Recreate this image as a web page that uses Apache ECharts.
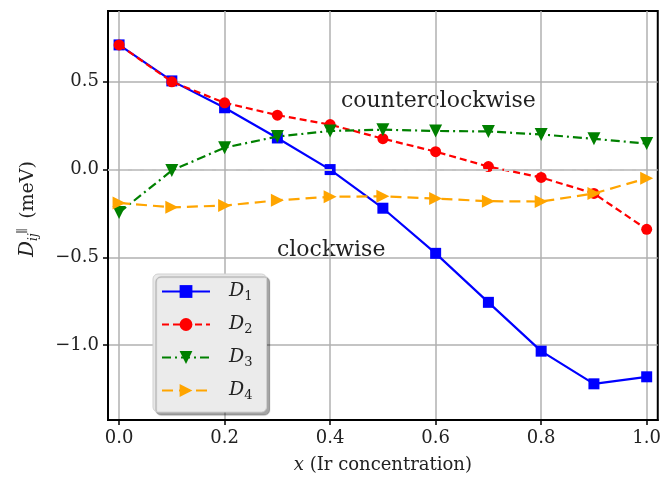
<!DOCTYPE html>
<html>
<head>
<meta charset="utf-8">
<script src="https://cdn.jsdelivr.net/npm/echarts@6/dist/echarts.min.js"></script>
<style>
  html, body { margin: 0; padding: 0; background: #fff; }
  #chart { width: 664px; height: 479px; }
</style>
</head>
<body>
<div id="chart"></div>
<script>
const xs = [0.0, 0.1, 0.2, 0.3, 0.4, 0.5, 0.6, 0.7, 0.8, 0.9, 1.0];
const d1 = [0.71, 0.505, 0.352, 0.18, 0.0, -0.22, -0.477, -0.756, -1.034, -1.22, -1.18];
const d2 = [0.71, 0.50, 0.38, 0.31, 0.256, 0.176, 0.102, 0.017, -0.045, -0.136, -0.34];
const d3 = [-0.245, -0.005, 0.125, 0.188, 0.22, 0.227, 0.22, 0.217, 0.20, 0.175, 0.148];
const d4 = [-0.19, -0.215, -0.205, -0.175, -0.155, -0.152, -0.165, -0.18, -0.182, -0.136, -0.05];
const xTicks = [0, 0.2, 0.4, 0.6, 0.8, 1.0];
const yTicks = [-1.0, -0.5, 0.0, 0.5];

const serif = 'DejaVu Serif';
const pair = arr => xs.map((x, i) => [x, arr[i]]);
const fmt = v => (v < 0 ? '\u2212' : '') + Math.abs(v).toFixed(1);

const myChart = echarts.init(document.getElementById('chart'), null, {renderer: 'canvas'});

function makeSeries(name, data, color, symbol, size, rotate, dash, z) {
    return {
        name: name,
        type: 'line',
        data: pair(data),
        z: z,
        symbol: symbol,
        symbolSize: size,
        symbolRotate: rotate,
        showAllSymbol: true,
        lineStyle: { color: color, width: 2.2, type: dash },
        itemStyle: { color: color },
        emphasis: { disabled: true },
        animation: false
    };
}

const axisCommon = {
    axisLine: { show: true, onZero: false, lineStyle: { color: '#000', width: 2 } },
    splitLine: { show: true, lineStyle: { color: '#b0b0b0', width: 1.5 } }
};

const option = {
    animation: false,
    grid: {
        left: 108, right: 6, top: 11, bottom: 58,
        show: true, borderColor: '#000', borderWidth: 2, backgroundColor: 'transparent'
    },
    xAxis: Object.assign({
        type: 'value',
        min: -0.021, max: 1.021,
        name: '{i|x} (Ir concentration)',
        nameLocation: 'middle',
        nameGap: 36,
        nameTextStyle: {
            fontFamily: serif, fontSize: 18, color: '#222',
            rich: { i: { fontFamily: serif, fontStyle: 'italic', fontSize: 18, color: '#222' } }
        },
        axisTick: { show: true, customValues: xTicks, length: 5, lineStyle: { color: '#000', width: 1.5 } },
        axisLabel: { customValues: xTicks, formatter: fmt, fontFamily: serif, fontSize: 18, color: '#222', margin: 9 }
    }, axisCommon),
    yAxis: Object.assign({
        type: 'value',
        min: -1.426, max: 0.903,
        axisTick: { show: true, customValues: yTicks, length: 5, lineStyle: { color: '#000', width: 1.5 } },
        axisLabel: { customValues: yTicks, formatter: fmt, fontFamily: serif, fontSize: 18, color: '#222', margin: 9 }
    }, axisCommon),
    legend: {
        orient: 'vertical',
        left: 153, top: 274,
        width: 110,
        padding: [8, 14, 10, 8],
        itemWidth: 48, itemHeight: 16,
        itemGap: 12,
        backgroundColor: '#ebebeb',
        borderColor: '#d0d0d0', borderWidth: 1, borderRadius: 5,
        shadowColor: 'rgba(0,0,0,0.35)', shadowOffsetX: 3, shadowOffsetY: 3, shadowBlur: 1,
        data: ['D1', 'D2', 'D3', 'D4'],
        formatter: n => '{d|D}{s|' + n.slice(1) + '}',
        textStyle: {
            padding: [0, 0, 0, 14],
            rich: {
                d: { fontFamily: serif, fontStyle: 'italic', fontSize: 19, color: '#222' },
                s: { fontFamily: serif, fontSize: 13, color: '#222', padding: [10, 0, 0, 0] }
            }
        }
    },
    graphic: [
        {
            type: 'text', x: 341, y: 101,
            style: { text: 'counterclockwise', fontFamily: serif, fontSize: 22, fill: '#222', align: 'left', verticalAlign: 'middle' }
        },
        {
            type: 'text', x: 277, y: 250,
            style: { text: 'clockwise', fontFamily: serif, fontSize: 22, fill: '#222', align: 'left', verticalAlign: 'middle' }
        },
        {
            type: 'text', x: 28, y: 209, rotation: Math.PI / 2,
            style: {
                text: '{d|D}{s|ij}{p|\u2225} (meV)',
                fontFamily: serif, fontSize: 19, fill: '#222', align: 'center', verticalAlign: 'middle',
                rich: {
                    d: { fontFamily: serif, fontStyle: 'italic', fontSize: 20, fill: '#222' },
                    s: { fontFamily: serif, fontStyle: 'italic', fontSize: 12, fill: '#222', padding: [11, 0, 0, 0] },
                    p: { fontFamily: serif, fontSize: 12, fill: '#222', padding: [0, 3, 11, 0] }
                }
            }
        }
    ],
    series: [
        {
            name: 'zero',
            type: 'line',
            data: [],
            z: 1,
            markLine: {
                silent: true,
                symbol: 'none',
                label: { show: false },
                lineStyle: { color: '#c8c8c8', width: 2, type: [8, 4] },
                data: [{ yAxis: 0 }],
                animation: false
            }
        },
        makeSeries('D1', d1, '#0000ff', 'rect', 11, 0, 'solid', 3),
        makeSeries('D2', d2, '#ff0000', 'circle', 11, 0, [7, 4], 4),
        makeSeries('D3', d3, '#008000', 'triangle', 13, 180, [9, 4, 2, 4], 5),
        makeSeries('D4', d4, '#ffa500', 'triangle', 13, -90, [11, 6], 6)
    ]
};
myChart.setOption(option);
</script>
</body>
</html>
